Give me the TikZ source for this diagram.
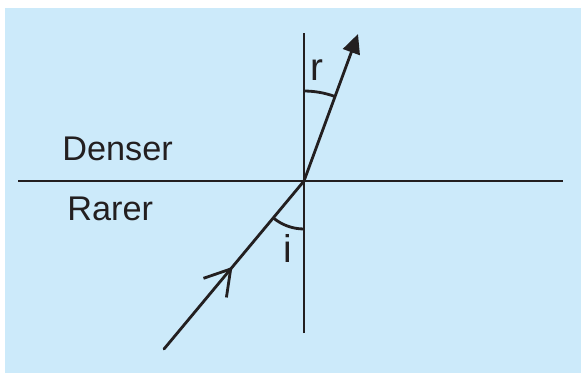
\documentclass[tikz,border=0pt]{standalone}
\usepackage{fontspec}
\setmainfont{Liberation Sans}
\usepackage{xcolor}
\usetikzlibrary{arrows.meta,decorations.markings}
\definecolor{bgblue}{RGB}{204,234,250}
\definecolor{ink}{RGB}{35,31,32}

\begin{document}
\begin{tikzpicture}[x=0.02cm, y=0.02cm,
      line/.style={draw=ink, line width=1.6pt},
      ray/.style={line, line cap=round},
      label/.style={inner sep=0pt, anchor=base west, text=ink, font=\fontsize{19.5}{23}\selectfont},
      angle/.style={inner sep=0pt, anchor=base west, text=ink, font=\fontsize{22}{26}\selectfont}]
    \useasboundingbox (0,0) rectangle (581,373);
    \fill[bgblue] (5,0) rectangle (581,365);
    \coordinate (O) at (304,192);
    \coordinate (west) at (18,192);
    \coordinate (east) at (563,192);
    \coordinate (top) at (304,340);
    \coordinate (bottom) at (304,40);
    \coordinate (src) at (164,24);
    \coordinate (dst) at (358,339);
    % surface and normal
    \draw[line] (west) -- (east);
    \draw[line] (bottom) -- (top);
    % rays
    \draw[ray, postaction={decorate}, decoration={markings,
      mark=at position 0.49 with {\arrow[ink, line width=1.6pt]{Straight Barb[length=14pt, width=17pt]}}}]
      (src) -- (O);
    \draw[ray, -{Triangle[length=11pt, width=10pt]}] (O) -- (dst);
    % angles
    \draw[line] (O) ++(90:1.8cm) arc[start angle=90, end angle=69.8, radius=1.8cm];
    \draw[line] (O) ++(230.2:0.96cm) arc[start angle=230.2, end angle=270, radius=0.96cm];
    \node[angle] (r) at (310,293) {r};
    \node[angle] (i) at (283,111) {i};
    \node[label] (denser) at (62,213) {Denser};
    \node[label] (rarer) at (67,153) {Rarer};
  \end{tikzpicture}
\end{document}
